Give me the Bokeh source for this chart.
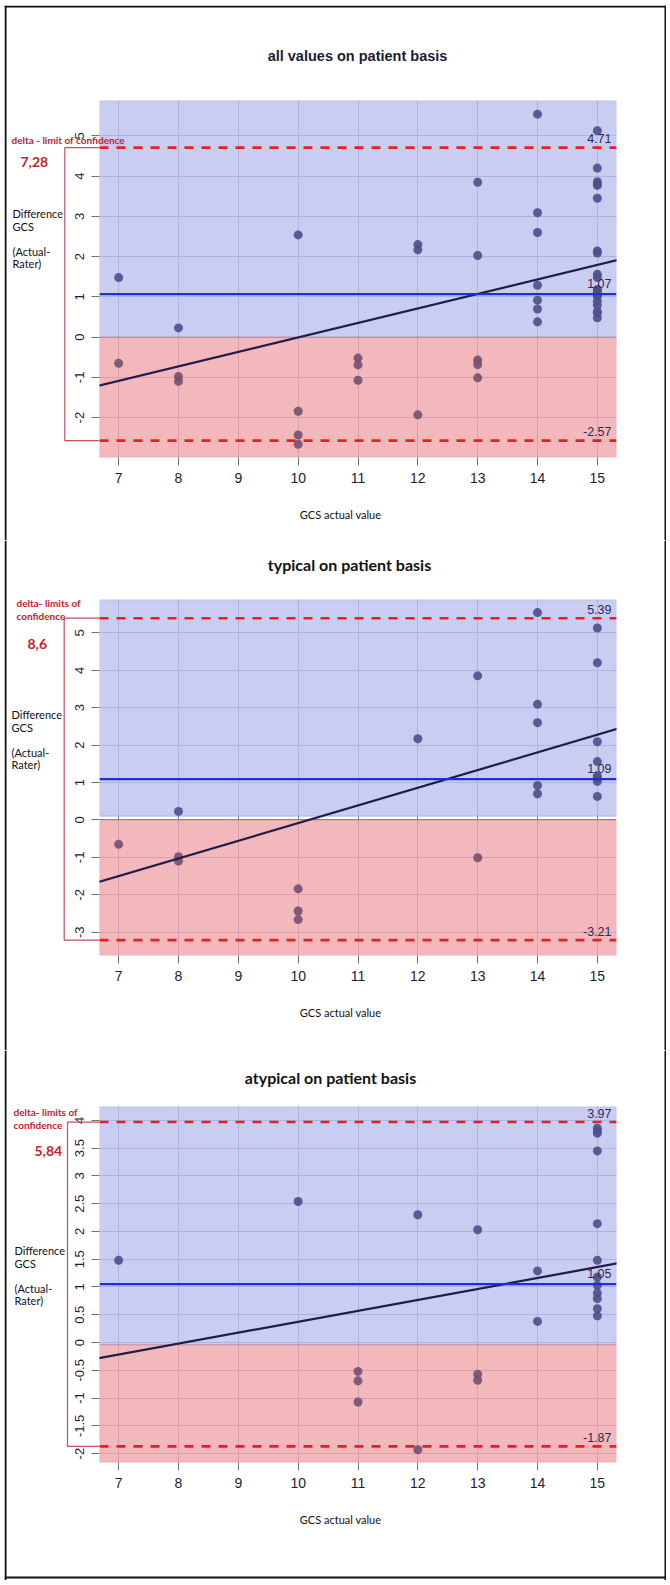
from bokeh.plotting import figure
from bokeh.models import (Span, Slope, Label, BoxAnnotation, FixedTicker, Range1d, Spacer)
from bokeh.layouts import column, row
from bokeh.embed import file_html
from bokeh.resources import INLINE

# ---------------- data ----------------
gcs_ticks = [7, 8, 9, 10, 11, 12, 13, 14, 15]

typical_x = [7, 8, 8, 8, 10, 10, 10, 12, 13, 13, 14, 14, 14, 14, 14,
             15, 15, 15, 15, 15, 15, 15, 15]
typical_y = [-0.65, 0.23, -0.98, -1.10, -1.84, -2.43, -2.66, 2.17, 3.85, -1.01,
             5.54, 3.09, 2.60, 0.92, 0.70,
             5.13, 4.20, 2.09, 1.56, 1.18, 1.12, 1.03, 0.63]

atypical_x = [7, 10, 11, 11, 11, 12, 12, 13, 13, 13, 14, 14,
              15, 15, 15, 15, 15, 15, 15, 15, 15, 15, 15, 15]
atypical_y = [1.48, 2.54, -0.52, -0.69, -1.07, 2.30, -1.93, 2.03, -0.57, -0.68,
              1.29, 0.38,
              3.86, 3.81, 3.77, 3.45, 2.14, 1.48, 1.18, 1.03, 0.89, 0.79, 0.61, 0.48]

all_x = typical_x + atypical_x
all_y = typical_y + atypical_y

means = [1.07, 1.09, 1.05]
upper_limits = [4.71, 5.39, 3.97]
lower_limits = [-2.57, -3.21, -1.87]
delta_texts = ["7,28", "8,6", "5,84"]
reg_slopes = [0.360, 0.472, 0.197]
reg_intercepts = [-3.605, -4.803, -1.596]
titles = ["all values on patient basis", "typical on patient basis",
          "atypical on patient basis"]
yticks = [[-2, -1, 0, 1, 2, 3, 4, 5],
          [-3, -2, -1, 0, 1, 2, 3, 4, 5],
          [-2, -1.5, -1, -0.5, 0, 0.5, 1, 1.5, 2, 2.5, 3, 3.5, 4]]

# ---------------- layout (page pixels) ----------------
XR = (6.68, 15.32)
FL, FR = 99, 616          # frame left / right on page
CANVAS_LEFT = 4
CANVAS_TOP = 5
W = 662
FRAME_X = (5, 665)        # outer black frame
FRAME_Y = (6, 1577)

layout = [
    dict(xs=all_x, ys=all_y, yr=(-2.99, 5.88), top=5, h=535, ft=100, fb=457,
         blue_bottom=0.0, red_top=0.0,
         title_font="Liberation Sans", title_size="14.5px", title_color="#1b1b36",
         title_pos=(357, 55),
         delta_lines=["delta - limit of confidence"], delta_x=11, delta_ys=[139],
         dval_pos=(20, 161), diff_x=12, diff_ys=[213, 225.7, 251, 262.7],
         bracket_x=64.3),
    dict(xs=typical_x, ys=typical_y, yr=(-3.62, 5.89), top=540, h=510, ft=599, fb=955,
         blue_bottom=0.1, red_top=0.0,
         title_font="Lato", title_size="16px", title_color="#111111",
         title_pos=(349, 564),
         delta_lines=["delta- limits of", "confidence"], delta_x=16, delta_ys=[602, 615],
         dval_pos=(27, 643.7), diff_x=11, diff_ys=[714, 727, 752, 764],
         bracket_x=63.7),
    dict(xs=atypical_x, ys=atypical_y, yr=(-2.16, 4.25), top=1050, h=530, ft=1106, fb=1462,
         blue_bottom=-0.04, red_top=-0.04,
         title_font="Lato", title_size="16px", title_color="#111111",
         title_pos=(330, 1077),
         delta_lines=["delta- limits of", "confidence"], delta_x=13, delta_ys=[1111.7, 1124],
         dval_pos=(34, 1150.7), diff_x=14, diff_ys=[1250, 1262.7, 1288, 1300],
         bracket_x=67),
]

BLUE = "#bcc0ee"
RED = "#f0a6ab"
GRID = "#7a7fb0"
PT_BLUE = "#4c5089"
PT_RED = "#74506f"
DASH_RED = "#e41f28"
TXT_RED = "#c8202c"


def make_panel(i, L):
    y0, y1 = L["yr"]
    ft, fb, top, h = L["ft"], L["fb"], L["top"], L["h"]

    def dx(px):
        return XR[0] + (px - FL) * (XR[1] - XR[0]) / (FR - FL)

    def dy(py):
        return y1 - (py - ft) * (y1 - y0) / (fb - ft)

    p = figure(width=W, height=h, x_range=Range1d(*XR), y_range=Range1d(y0, y1),
               output_backend="svg", toolbar_location=None, title=None,
               min_border_left=FL - CANVAS_LEFT,
               min_border_right=W - (FL - CANVAS_LEFT) - (FR - FL),
               min_border_top=ft - top, min_border_bottom=top + h - fb)
    p.outline_line_color = None
    p.background_fill_color = "white"
    p.border_fill_color = "white"

    # axes
    p.xaxis.ticker = FixedTicker(ticks=gcs_ticks)
    p.yaxis.ticker = FixedTicker(ticks=yticks[i])
    p.yaxis.major_label_overrides = {t: f"{t:g}" for t in yticks[i]}
    for ax in (p.xaxis[0], p.yaxis[0]):
        ax.axis_line_color = None
        ax.major_tick_in = 0
        ax.major_tick_out = 8
        ax.minor_tick_line_color = None
        ax.major_tick_line_color = "#707070"
        ax.major_label_text_font = "Liberation Sans"
        ax.major_label_text_color = "#1d1d30"
        ax.major_label_standoff = 7
    p.xaxis.major_label_text_font_size = "14px"
    p.yaxis.major_label_text_font_size = "13px"
    p.yaxis.major_label_orientation = "vertical"

    p.xgrid.ticker = FixedTicker(ticks=gcs_ticks)
    p.xgrid.grid_line_color = GRID
    p.ygrid.grid_line_color = GRID

    # coloured regions
    p.add_layout(BoxAnnotation(bottom=L["blue_bottom"], fill_color=BLUE, fill_alpha=0.8,
                               line_color="#7b7fc2", line_width=1.3, level="underlay"))
    p.add_layout(BoxAnnotation(top=L["red_top"], fill_color=RED, fill_alpha=0.8,
                               line_color="#c76a74", line_width=1.3, level="underlay"))

    # points (tinted by the region they sit in)
    colors = [PT_RED if yv < L["red_top"] else PT_BLUE for yv in L["ys"]]
    p.scatter(L["xs"], L["ys"], size=9, fill_color=colors, fill_alpha=0.9, line_color=None)

    # lines
    p.add_layout(Slope(gradient=reg_slopes[i], y_intercept=reg_intercepts[i],
                       line_color="#1d1d4a", line_width=2.2))
    p.add_layout(Span(location=means[i], dimension="width", line_color="#1f30d2",
                      line_width=2.2))
    for v in (upper_limits[i], lower_limits[i]):
        p.add_layout(Span(location=v, dimension="width", line_color=DASH_RED,
                          line_width=2.6, line_dash="9 8"))

    ppu = (fb - ft) / (y1 - y0)
    for v, off in ((upper_limits[i], 9), (means[i], 11), (lower_limits[i], 9)):
        p.add_layout(Label(x=dx(611), y=v + off / ppu, text=f"{v:.2f}",
                           text_align="right", text_baseline="middle",
                           text_font="Liberation Sans", text_font_size="12.5px",
                           text_color="#2a2a55"))

    # ---------- transparent overlay with the texts outside the plot box ----------
    o = figure(width=W, height=h,
               x_range=Range1d(dx(CANVAS_LEFT), dx(CANVAS_LEFT + W)),
               y_range=Range1d(dy(top + h), dy(top)),
               output_backend="svg", toolbar_location=None, title=None,
               min_border=0, min_border_left=0, min_border_right=0,
               min_border_top=0, min_border_bottom=0,
               x_axis_location=None, y_axis_location=None)
    o.grid.visible = False
    o.outline_line_color = None
    o.background_fill_alpha = 0
    o.border_fill_alpha = 0

    bx = dx(L["bracket_x"])
    o.line(x=[dx(FL), bx, bx, dx(FL)],
           y=[upper_limits[i], upper_limits[i], lower_limits[i], lower_limits[i]],
           line_color="#c4505c", line_width=1.2)

    tx, ty = L["title_pos"]
    o.add_layout(Label(x=dx(tx), y=dy(ty), text=titles[i], text_align="center",
                       text_baseline="middle", text_font=L["title_font"],
                       text_font_size=L["title_size"], text_font_style="bold",
                       text_color=L["title_color"]))
    for t, yy in zip(L["delta_lines"], L["delta_ys"]):
        o.add_layout(Label(x=dx(L["delta_x"]), y=dy(yy), text=t, text_align="left",
                           text_baseline="middle", text_font="Lato",
                           text_font_size="10px", text_font_style="bold",
                           text_color=TXT_RED))
    vx, vy = L["dval_pos"]
    o.add_layout(Label(x=dx(vx), y=dy(vy), text=delta_texts[i], text_align="left",
                       text_baseline="middle", text_font="Lato",
                       text_font_size="14px", text_font_style="bold",
                       text_color=TXT_RED))
    for t, yy in zip(["Difference", "GCS", "(Actual-", "Rater)"], L["diff_ys"]):
        o.add_layout(Label(x=dx(L["diff_x"]), y=dy(yy), text=t, text_align="left",
                           text_baseline="middle", text_font="Lato",
                           text_font_size="11px", text_color="#111111"))
    o.add_layout(Label(x=dx(340), y=dy(fb + 57), text="GCS actual value",
                       text_align="center", text_baseline="middle",
                       text_font="Lato", text_font_size="11px",
                       text_color="#111111"))

    for fx in FRAME_X:
        o.add_layout(Span(location=dx(fx), dimension="height", line_color="#111111",
                          line_width=2))
    for fy in FRAME_Y:
        if top <= fy <= top + h:
            o.add_layout(Span(location=dy(fy), dimension="width", line_color="#111111",
                              line_width=2))

    wrap = row(Spacer(width=0, height=h), o, spacing=0, margin=(-h, 0, 0, 0))
    return [p, wrap]


children = []
for i, L in enumerate(layout):
    children += make_panel(i, L)
page = column(*children, spacing=0, margin=(CANVAS_TOP, 0, 0, CANVAS_LEFT))

open("out.html", "w").write(file_html(page, INLINE))
